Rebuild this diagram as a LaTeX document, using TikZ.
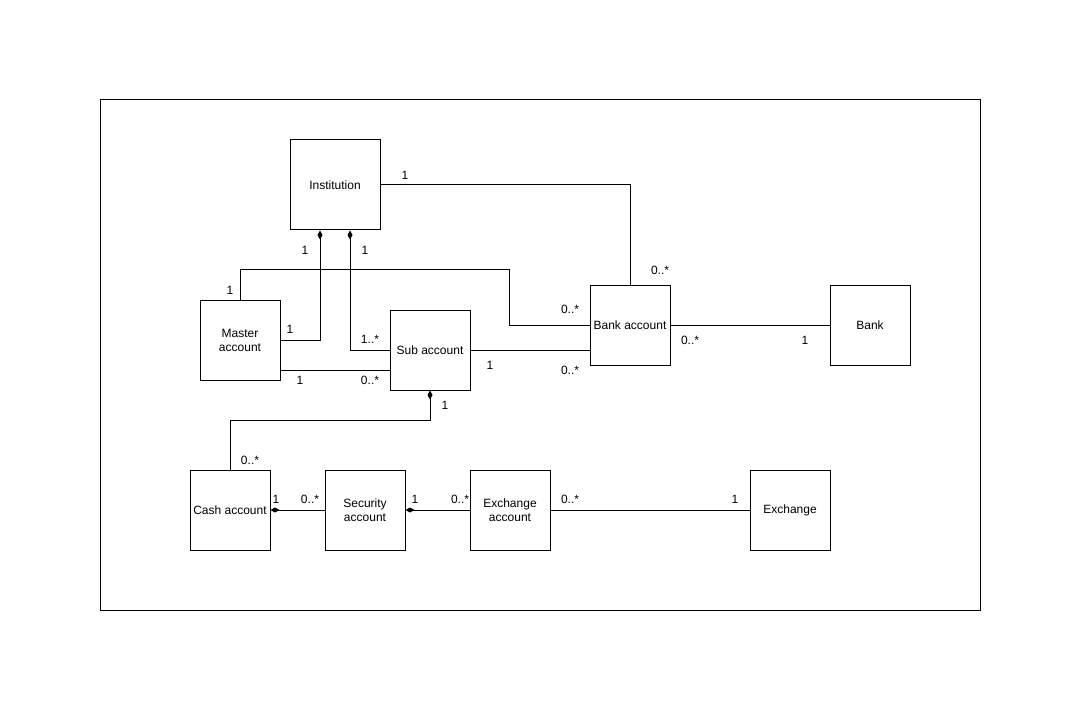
\documentclass[tikz,border=0pt]{standalone}
\usepackage{fontspec}
\setmainfont{Liberation Sans}
\usetikzlibrary{arrows.meta}
\begin{document}
\begin{tikzpicture}[x=1pt,y=-1pt,
  every node/.style={font=\fontsize{12}{14}\selectfont},
  box/.style={draw,line width=1pt,minimum width=80pt,minimum height=80pt,inner sep=0pt,align=center},
  conn/.style={line width=1pt},
  comp/.style={conn,{Diamond[length=9pt,width=5pt]}-},
  lbl/.style={inner sep=0pt,anchor=center}]
\useasboundingbox (0,0) rectangle (1081,711);
\draw[line width=1pt] (100,100) rectangle (980,610);
\node[box,minimum width=90pt,minimum height=90pt] (inst) at (335,185) {Institution};
\node[box] (master) at (240,340) {Master\\account};
\node[box] (sub) at (430,350) {Sub account};
\node[box] (bankacc) at (630,325) {Bank account};
\node[box] (bank) at (870,325) {Bank};
\node[box] (cash) at (230,510) {Cash account};
\node[box] (sec) at (365,510) {Security\\account};
\node[box] (exacc) at (510,510) {Exchange\\account};
\node[box] (exch) at (790,510) {Exchange};
% connectors
\draw[conn] (inst.east) -| (bankacc.north);
\draw[comp] ([xshift=-15pt]inst.south) |- (master.east);
\draw[comp] ([xshift=15pt]inst.south) |- (sub.west);
\draw[conn] (master.north) -- ++(0,-30) -| ([xshift=-80pt]bankacc.west) -- (bankacc.west);
\draw[conn] ([yshift=-30pt]master.east) -- ([yshift=-30pt]master.east -| sub.west);
\draw[conn] (sub.east) -- (sub.east -| bankacc.west);
\draw[conn] (bankacc.east) -- (bank.west);
\draw[comp] (sub.south) -- ++(0,30) -| (cash.north);
\draw[comp] (cash.east) -- (sec.west);
\draw[comp] (sec.east) -- (exacc.west);
\draw[conn] (exacc.east) -- (exch.west);
% labels
\node[lbl] (l1) at (405,175) {1};
\node[lbl] (l2) at (660,270) {0..*};
\node[lbl] (l3) at (305,250) {1};
\node[lbl] (l4) at (290,329) {1};
\node[lbl] (l5) at (365,250) {1};
\node[lbl] (l6) at (370,339) {1..*};
\node[lbl] (l7) at (230,290) {1};
\node[lbl] (l8) at (570,309) {0..*};
\node[lbl] (l9) at (300,380) {1};
\node[lbl] (l10) at (370,380) {0..*};
\node[lbl] (l11) at (490,365) {1};
\node[lbl] (l12) at (570,370) {0..*};
\node[lbl] (l13) at (690,340) {0..*};
\node[lbl] (l14) at (805,340) {1};
\node[lbl] (l15) at (445,405) {1};
\node[lbl] (l16) at (250,460) {0..*};
\node[lbl] (l17) at (276,499) {1};
\node[lbl] (l18) at (310,499) {0..*};
\node[lbl] (l19) at (415,499) {1};
\node[lbl] (l20) at (460,499) {0..*};
\node[lbl] (l21) at (570,499) {0..*};
\node[lbl] (l22) at (735,499) {1};
\end{tikzpicture}
\end{document}
